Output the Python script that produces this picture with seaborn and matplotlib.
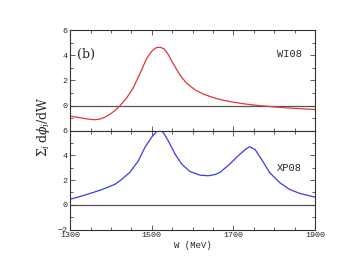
import matplotlib
matplotlib.use('Agg')
import matplotlib.pyplot as plt
import seaborn as sns
import pandas as pd
from matplotlib.ticker import MultipleLocator, FixedLocator

# WI08 (top panel, red)
w_wi08 = [1300, 1315, 1327, 1345, 1360, 1372, 1384, 1400, 1410, 1422, 1438, 1454,
          1471, 1487, 1500, 1510, 1520, 1530, 1540, 1552, 1569, 1585, 1606, 1626,
          1642, 1660, 1675, 1700, 1730, 1757, 1798, 1838, 1870, 1900]
v_wi08 = [-0.84, -0.92, -0.99, -1.08, -1.13, -1.08, -0.94, -0.63, -0.38, 0.0, 0.6, 1.39,
          2.56, 3.74, 4.34, 4.6, 4.65, 4.52, 4.08, 3.35, 2.43, 1.78, 1.25, 0.92,
          0.73, 0.55, 0.42, 0.27, 0.12, 0.02, -0.1, -0.2, -0.26, -0.31]

# XP08 (bottom panel, blue)
w_xp08 = [1300, 1335, 1376, 1409, 1422, 1446, 1467, 1483, 1500, 1512, 1520, 1528,
          1540, 1557, 1573, 1593, 1618, 1638, 1655, 1667, 1691, 1716, 1732, 1740,
          1753, 1769, 1789, 1814, 1838, 1863, 1900]
v_xp08 = [0.45, 0.78, 1.21, 1.65, 1.95, 2.62, 3.57, 4.65, 5.5, 5.94, 6.0, 5.86,
          5.19, 4.1, 3.3, 2.7, 2.4, 2.35, 2.45, 2.62, 3.3, 4.1, 4.55, 4.7,
          4.48, 3.67, 2.6, 1.78, 1.24, 0.92, 0.62]

df_top = pd.DataFrame({'W': w_wi08, 'v': v_wi08})
df_bot = pd.DataFrame({'W': w_xp08, 'v': v_xp08})

sns.set_style('ticks')
plt.rcParams['font.family'] = ['Liberation Mono', 'DejaVu Sans Mono']
plt.rcParams['mathtext.fontset'] = 'dejavuserif'

fig = plt.figure(figsize=(3.49, 2.70), dpi=100)
ax1 = fig.add_axes([0.2014, 0.516, 0.7012, 0.372])
ax2 = fig.add_axes([0.2014, 0.150, 0.7012, 0.366])

sns.lineplot(data=df_top, x='W', y='v', ax=ax1, color='#e0363a', lw=0.9)
sns.lineplot(data=df_bot, x='W', y='v', ax=ax2, color='#3a3ae8', lw=0.9)

for ax in (ax1, ax2):
    ax.axhline(0, color='#555555', lw=0.9, zorder=0)
    ax.set_xlim(1300, 1900)
    ax.set_ylim(-2, 6)
    ax.xaxis.set_major_locator(FixedLocator([1300, 1500, 1700, 1900]))
    ax.xaxis.set_minor_locator(MultipleLocator(50))
    ax.yaxis.set_major_locator(MultipleLocator(2))
    ax.yaxis.set_minor_locator(MultipleLocator(1))
    ax.tick_params(which='both', direction='in', top=True, right=True,
                   labelsize=6, width=0.6, color='#444444', pad=2)
    ax.tick_params(which='major', length=3.5)
    ax.tick_params(which='minor', length=2)
    for s in ax.spines.values():
        s.set_linewidth(0.8)
        s.set_color('#333333')
    ax.set_xlabel('')
    ax.set_ylabel('')

ax1.set_yticks([0, 2, 4, 6])
ax1.set_yticks([-1, 1, 3, 5], minor=True)
ax1.tick_params(labelbottom=False)
ax2.set_xticklabels(['1300', '1500', '1700', '1900'])

ax1.text(1338, 4.1, '(b)', fontsize=9, family='DejaVu Serif', ha='center', va='center')
ax1.text(1838, 4.1, 'WI08', fontsize=7.5, ha='center', va='center')
ax2.text(1838, 3.0, 'XP08', fontsize=7.5, ha='center', va='center')

ax2.set_xlabel('W (MeV)', fontsize=6.5, labelpad=1)
fig.text(0.125, 0.53, r'$\Sigma_i\,\mathrm{d}\phi_i/\mathrm{dW}$', rotation=90,
         fontsize=9, ha='center', va='center')

fig.savefig('out.png', dpi=100)
